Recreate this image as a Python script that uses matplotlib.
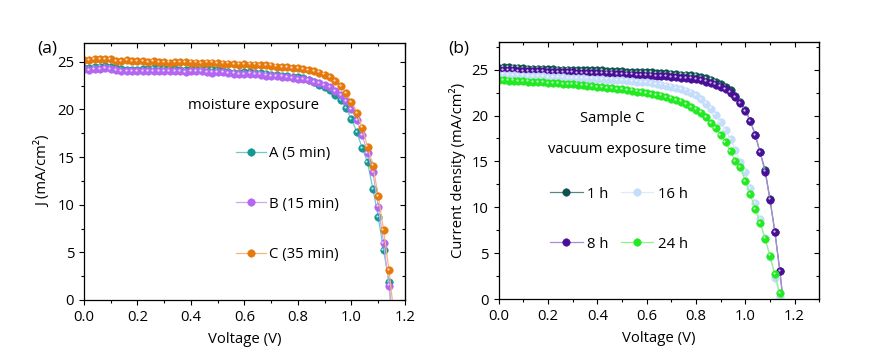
import matplotlib

matplotlib.use("Agg")
import matplotlib.pyplot as plt
from matplotlib.transforms import offset_copy

plt.rcParams["font.family"] = ["Open Sans", "DejaVu Sans"]
FS = 10.7
plt.rcParams["font.size"] = FS

# voltage grid (V) shared by all curves
voltage = [
    0.00, 0.02, 0.04, 0.06, 0.08, 0.10, 0.12, 0.14, 0.16, 0.18,
    0.20, 0.22, 0.24, 0.26, 0.28, 0.30, 0.32, 0.34, 0.36, 0.38,
    0.40, 0.42, 0.44, 0.46, 0.48, 0.50, 0.52, 0.54, 0.56, 0.58,
    0.60, 0.62, 0.64, 0.66, 0.68, 0.70, 0.72, 0.74, 0.76, 0.78,
    0.80, 0.82, 0.84, 0.86, 0.88, 0.90, 0.92, 0.94, 0.96, 0.98,
    1.00, 1.02, 1.04, 1.06, 1.08, 1.10, 1.12, 1.14, 1.16,
]

# panel (a): moisture exposure
j_a5 = [
    24.3, 24.35, 24.4, 24.5, 24.55, 24.45, 24.3, 24.2, 24.15, 24.1,
    24.15, 24.2, 24.25, 24.3, 24.3, 24.3, 24.25, 24.2, 24.15, 24.15,
    24.2, 24.2, 24.25, 24.25, 24.2, 24.1, 24.0, 23.9, 23.85, 23.85,
    23.9, 23.9, 23.85, 23.8, 23.75, 23.65, 23.6, 23.55, 23.5, 23.45,
    23.4, 23.3, 23.1, 22.85, 22.55, 22.3, 22.0, 21.55, 21.0, 20.1,
    19.0, 17.6, 15.95, 14.45, 11.65, 8.7, 5.25, 1.9, -4.5,
]
j_b15 = [
    24.2, 24.15, 24.2, 24.25, 24.3, 24.25, 24.15, 24.05, 24.0, 24.05,
    24.05, 24.0, 24.05, 24.0, 24.0, 24.05, 24.05, 24.0, 24.0, 23.95,
    24.0, 24.05, 24.0, 23.9, 23.85, 23.9, 23.9, 23.8, 23.75, 23.7,
    23.7, 23.75, 23.7, 23.65, 23.55, 23.5, 23.5, 23.45, 23.4, 23.3,
    23.2, 23.15, 23.05, 22.9, 22.75, 22.55, 22.3, 21.95, 21.5, 20.9,
    20.0, 18.9, 17.3, 15.45, 13.4, 9.8, 6.0, 1.5, -4.0,
]
j_c35 = [
    25.2, 25.2, 25.25, 25.3, 25.3, 25.25, 25.05, 25.1, 25.15, 25.1,
    25.05, 25.05, 25.0, 25.05, 25.0, 24.95, 24.9, 24.95, 24.95, 24.95,
    24.9, 24.9, 24.85, 24.9, 24.9, 24.85, 24.8, 24.8, 24.75, 24.7,
    24.75, 24.7, 24.7, 24.65, 24.65, 24.6, 24.5, 24.45, 24.4, 24.35,
    24.3, 24.2, 24.1, 24.0, 23.85, 23.65, 23.4, 23.0, 22.45, 21.7,
    20.8, 19.6, 18.1, 16.1, 14.1, 10.9, 7.3, 3.15, -1.9,
]

# panel (b): sample C, vacuum exposure time
j_1h = [
    25.2, 25.25, 25.25, 25.2, 25.2, 25.15, 25.1, 25.1, 25.1, 25.1,
    25.05, 25.05, 25.0, 25.0, 25.0, 24.95, 24.95, 24.95, 24.95, 24.9,
    24.9, 24.9, 24.85, 24.85, 24.85, 24.8, 24.75, 24.75, 24.75, 24.7,
    24.7, 24.7, 24.65, 24.6, 24.6, 24.55, 24.5, 24.45, 24.45, 24.4,
    24.35, 24.2, 24.05, 23.9, 23.7, 23.45, 23.15, 22.75, 22.15, 21.5,
    20.6, 19.45, 17.9, 16.0, 14.1, 10.9, 7.3, 3.1, -1.8,
]
j_8h = [
    24.95, 24.95, 24.9, 24.9, 24.85, 24.85, 24.8, 24.8, 24.8, 24.8,
    24.75, 24.75, 24.7, 24.7, 24.7, 24.7, 24.65, 24.65, 24.65, 24.6,
    24.6, 24.55, 24.55, 24.55, 24.5, 24.5, 24.45, 24.45, 24.4, 24.4,
    24.35, 24.35, 24.3, 24.3, 24.25, 24.2, 24.15, 24.1, 24.05, 24.0,
    23.95, 23.85, 23.7, 23.55, 23.35, 23.15, 22.85, 22.5, 22.0, 21.35,
    20.5, 19.4, 17.9, 16.0, 13.9, 10.85, 7.3, 3.1, -1.8,
]
j_16h = [
    24.45, 24.45, 24.4, 24.4, 24.35, 24.35, 24.3, 24.3, 24.25, 24.25,
    24.2, 24.2, 24.15, 24.15, 24.1, 24.1, 24.05, 24.05, 24.0, 24.0,
    23.95, 23.95, 23.9, 23.9, 23.85, 23.85, 23.8, 23.75, 23.7, 23.65,
    23.6, 23.5, 23.45, 23.35, 23.25, 23.15, 23.0, 22.85, 22.7, 22.5,
    22.25, 21.8, 21.3, 20.75, 20.1, 19.3, 18.4, 17.4, 16.2, 14.95,
    13.9, 12.1, 10.5, 8.7, 6.7, 4.6, 2.35, 0.2, -2.0,
]
j_24h = [
    23.85, 23.85, 23.8, 23.8, 23.75, 23.75, 23.7, 23.65, 23.6, 23.6,
    23.55, 23.55, 23.5, 23.45, 23.45, 23.4, 23.35, 23.3, 23.25, 23.2,
    23.1, 23.05, 23.0, 22.95, 22.9, 22.85, 22.75, 22.7, 22.6, 22.55,
    22.45, 22.35, 22.25, 22.15, 22.0, 21.85, 21.7, 21.5, 21.25, 20.95,
    20.65, 20.3, 19.8, 19.2, 18.6, 17.9, 17.1, 16.1, 15.0, 14.4,
    12.85, 11.45, 9.85, 8.3, 6.6, 4.75, 2.7, 0.65, -1.5,
]

series_a = [
    ("A (5 min)", j_a5, "#139894", "#6ccbc8"),
    ("B (15 min)", j_b15, "#b266f2", "#cfa6f6"),
    ("C (35 min)", j_c35, "#e5790c", "#f6b67a"),
]
series_b = [
    ("1 h", j_1h, "#0f5150", "#5a8584"),
    ("8 h", j_8h, "#4a0f98", "#a98bd8"),
    ("16 h", j_16h, "#c3ddfa", "#dcebfc"),
    ("24 h", j_24h, "#22ea22", "#8ef28e"),
]


def draw_curves(fig, ax, series):
    shine = offset_copy(ax.transData, fig=fig, x=-0.9, y=0.9, units="points")
    for label, j, mcol, lcol in series:
        ax.plot(voltage, j, color=lcol, lw=0.9, marker="o", ms=5.4,
                mfc=mcol, mec=mcol, mew=0.4, label=label)
        ax.plot(voltage, j, ls="none", marker="o", ms=1.6, mfc="white",
                mec="none", alpha=0.75, transform=shine)


def style_axes(ax, xmax, ymax):
    ax.set_xlim(0, xmax)
    ax.set_ylim(0, ymax)
    ax.set_xticks([0.0, 0.2, 0.4, 0.6, 0.8, 1.0, 1.2])
    ax.set_xticklabels(["0.0", "0.2", "0.4", "0.6", "0.8", "1.0", "1.2"])
    ax.set_yticks([0, 5, 10, 15, 20, 25])
    ax.xaxis.set_minor_locator(matplotlib.ticker.MultipleLocator(0.1))
    ax.yaxis.set_minor_locator(matplotlib.ticker.MultipleLocator(2.5))
    ax.tick_params(which="major", direction="out", length=3.6, width=0.8, labelsize=FS)
    ax.tick_params(which="minor", direction="out", length=2.0, width=0.8)
    for s in ax.spines.values():
        s.set_linewidth(0.9)
    top = ax.secondary_xaxis("top")
    top.set_xticks(ax.get_xticks())
    top.xaxis.set_minor_locator(matplotlib.ticker.MultipleLocator(0.1))
    top.tick_params(which="major", direction="in", length=3.6, width=0.8, labeltop=False)
    top.tick_params(which="minor", direction="in", length=2.0, width=0.8)
    right = ax.secondary_yaxis("right")
    right.set_yticks([0, 5, 10, 15, 20, 25])
    right.yaxis.set_minor_locator(matplotlib.ticker.MultipleLocator(2.5))
    right.tick_params(which="major", direction="in", length=3.6, width=0.8, labelright=False)
    right.tick_params(which="minor", direction="in", length=2.0, width=0.8)


fig = plt.figure(figsize=(8.86, 3.61), dpi=100)
ax1 = fig.add_axes([0.0948, 0.169, 0.3623, 0.7127])
ax2 = fig.add_axes([0.5629, 0.1709, 0.3618, 0.7128])

draw_curves(fig, ax1, series_a)
style_axes(ax1, 1.2, 27)
ax1.set_xlabel("Voltage (V)", fontsize=FS, labelpad=5)
ax1.set_ylabel("J (mA/cm²)", fontsize=FS, labelpad=4)
ax1.text(0.527, 0.754, "moisture exposure", transform=ax1.transAxes,
         ha="center", va="center", fontsize=FS)
ax1.legend(loc="upper left", bbox_to_anchor=(0.473, 0.598), frameon=False,
           fontsize=FS, handlelength=2.05, handletextpad=0.2,
           labelspacing=2.38, borderpad=0, borderaxespad=0)

draw_curves(fig, ax2, series_b)
style_axes(ax2, 1.3, 28)
ax2.set_xlabel("Voltage (V)", fontsize=FS, labelpad=5)
ax2.set_ylabel("Current density (mA/cm²)", fontsize=FS, labelpad=4)
ax2.text(0.353, 0.702, "Sample C", transform=ax2.transAxes,
         ha="center", va="center", fontsize=FS)
ax2.text(0.402, 0.583, "vacuum exposure time", transform=ax2.transAxes,
         ha="center", va="center", fontsize=FS)
ax2.legend(loc="upper left", bbox_to_anchor=(0.16, 0.438), frameon=False,
           fontsize=FS, ncol=2, handlelength=2.2, handletextpad=0.3,
           columnspacing=0.8, labelspacing=2.35, borderpad=0, borderaxespad=0)

fig.text(0.053, 0.867, "(a)", ha="center", va="center", fontsize=12.5)
fig.text(0.518, 0.867, "(b)", ha="center", va="center", fontsize=12.5)

fig.savefig("out.png", dpi=100)
plt.close(fig)
